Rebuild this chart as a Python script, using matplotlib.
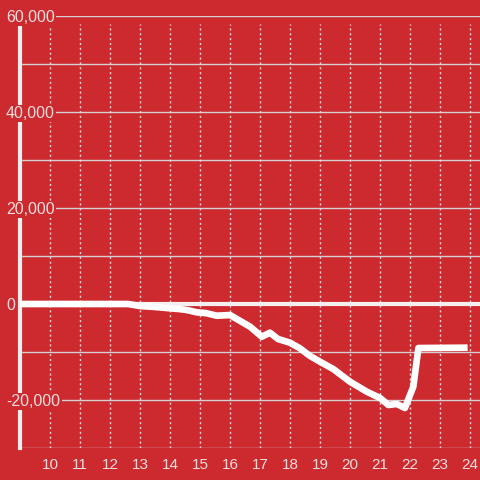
import matplotlib
matplotlib.use("Agg")
import matplotlib.pyplot as plt

hours = [9.0, 10.0, 11.0, 12.0, 12.6, 13.0, 13.5, 14.0, 14.3, 14.56, 14.89, 15.2, 15.56, 16.0,
         16.33, 16.67, 17.06, 17.33, 17.6, 18.0, 18.33, 18.67, 19.0, 19.44, 20.0, 20.56,
         21.0, 21.28, 21.56, 21.83, 22.11, 22.28, 23.92]
values = [0, 0, 0, 0, 0, -420, -620, -900, -1050, -1250, -1730, -1900, -2440, -2300,
          -3500, -4730, -6810, -5980, -7290, -8060, -9230, -10830, -12020, -13540, -16190, -18270,
          -19580, -21040, -20830, -21670, -17230, -9170, -9100]

xticks = list(range(10, 25))
xtick_labels = [str(h) for h in xticks]
yticks = [-20000, 0, 20000, 40000, 60000]
ytick_labels = ["-20,000", "0", "20,000", "40,000", "60,000"]
ygrid = list(range(-30000, 60001, 10000))

BG = "#cc2a2f"
TXT = "#f3dede"

plt.rcParams['font.family'] = ['Liberation Sans', 'DejaVu Sans']
fig = plt.figure(figsize=(4.8, 4.8), dpi=100, facecolor=BG)
ax = fig.add_axes([20/480, 32/480, 460/480, 432/480], facecolor=BG)
ax.set_xlim(9, 24.333)
ax.set_ylim(-30000, 60000)

for g in ygrid:
    ax.axhline(g, color="#d6d0d0", lw=1, zorder=1)
for xt in xticks:
    ax.axvline(xt, color="#eadede", lw=1, ls=(0, (1.5, 2)), zorder=1, ymax=(60000 - 1700 + 30000) / 90000)
ax.axhline(0, color="#f5eeee", lw=3, zorder=2)

ax.plot(hours, values, color="white", lw=4.8, solid_joinstyle="round", solid_capstyle="butt", zorder=3)

for s in ["top", "right", "bottom"]:
    ax.spines[s].set_visible(False)
ax.spines["left"].set_color("#f3eded")
ax.spines["left"].set_linewidth(3)
ax.spines["left"].set_zorder(1.3)
ax.yaxis.set_zorder(1.6)

ax.set_xticks(xticks)
ax.set_xticklabels(xtick_labels)
ax.set_yticks(yticks)
ax.set_yticklabels(ytick_labels)
ax.tick_params(axis="x", length=0, pad=7, labelsize=11, colors=TXT)
ax.tick_params(axis="y", length=0, pad=10, labelsize=11.5, colors=TXT)
for lab in ax.get_yticklabels():
    lab.set_ha("left")
    lab.set_bbox(dict(facecolor=BG, edgecolor="none", pad=1))

fig.savefig("out.png", dpi=100, facecolor=BG)
